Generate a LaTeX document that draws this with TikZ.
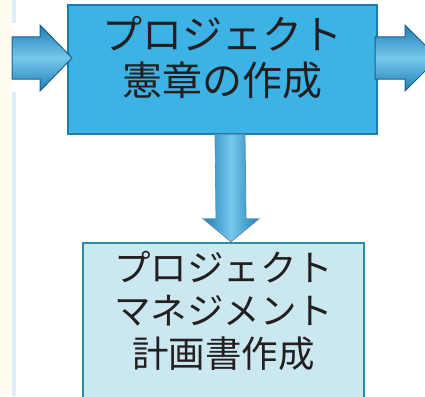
\documentclass[tikz,border=0pt]{standalone}
\usepackage{fontspec}
\setmainfont{Noto Sans CJK JP}
\usetikzlibrary{calc}
\definecolor{topfill}{HTML}{3DB2E5}
\definecolor{topedge}{HTML}{1C7DB3}
\definecolor{botfill}{HTML}{CBE7EF}
\definecolor{botedge}{HTML}{2B8DA6}
\definecolor{arrfill}{HTML}{3CB0E2}
\definecolor{arrdark}{HTML}{1E7FB8}
\definecolor{arredge}{HTML}{1D5F8C}
\definecolor{txt}{HTML}{231F20}
\definecolor{cream}{HTML}{FFFBF0}
\definecolor{stripe}{HTML}{DDEEF8}
\begin{document}
\begin{tikzpicture}[x=1pt,y=-1pt,
 topbox/.style={draw=topedge, line width=2pt, fill=topfill, minimum width=309pt, minimum height=128pt, inner sep=0pt},
 botbox/.style={draw=botedge, line width=2.5pt, fill=botfill, minimum width=281pt, minimum height=160pt, inner sep=0pt},
 boxlabel/.style={text=txt, align=center, inner sep=0pt},
 sidearrow/.style={draw=arredge, line width=1pt, line join=miter, top color=arrdark, bottom color=arrdark, middle color=arrfill!70!white},
 downarrow/.style={draw=arredge!70, line width=0.8pt, line join=miter, left color=arrdark, right color=arrdark, middle color=arrfill!70!white, shading angle=90}]
\useasboundingbox (0,0) rectangle (425,396);
\fill[white] (0,0) rectangle (425,396);
\fill[cream] (0,0) rectangle (11,396);
\fill[stripe] (12,0) rectangle (16,396);

% boxes
\node[topbox] (top) at (222.5,69.5) {};
\node[boxlabel, font=\fontsize{40pt}{46pt}\selectfont] (toplabel) at (222.5,58) {プロジェクト\\憲章の作成};
\node[botbox] (bot) at (223.5,323) {};
\node[boxlabel, font=\fontsize{36.5pt}{43pt}\selectfont] (botlabel) at (223.5,311) {プロジェクト\\マネジメント\\計画書作成};

% side arrows
\coordinate (lstart) at (12,58);
\fill[white] (11,23) rectangle (66,92);
\draw[sidearrow] ($(lstart)+(0,-21)$) -- ($(lstart)+(28,-21)$) -- ($(lstart)+(28,-33)$)
  -- ($(top.west)+(5,-11.5)$) -- ($(lstart)+(28,33)$) -- ($(lstart)+(28,21)$) -- ($(lstart)+(0,21)$) -- cycle;
\coordinate (rend) at (438,58);
\fill[white] (379,23) rectangle (425,92);
\draw[sidearrow] ($(top.east)+(-3,-32.5)$) -- ($(rend)+(-33,-21)$) -- ($(rend)+(-33,-33)$)
  -- (rend) -- ($(rend)+(-33,33)$) -- ($(rend)+(-33,21)$) -- ($(top.east)+(-3,9.5)$) -- cycle;

% down arrow
\draw[downarrow] ($(top.south)+(-7.5,0)$) -- ($(bot.north)+(-7.5,-23)$) -- ($(bot.north)+(-20.5,-23)$)
  -- ($(bot.north)+(7.5,0)$) -- ($(bot.north)+(35.5,-23)$) -- ($(bot.north)+(22.5,-23)$) -- ($(top.south)+(22.5,0)$) -- cycle;
\end{tikzpicture}
\end{document}
